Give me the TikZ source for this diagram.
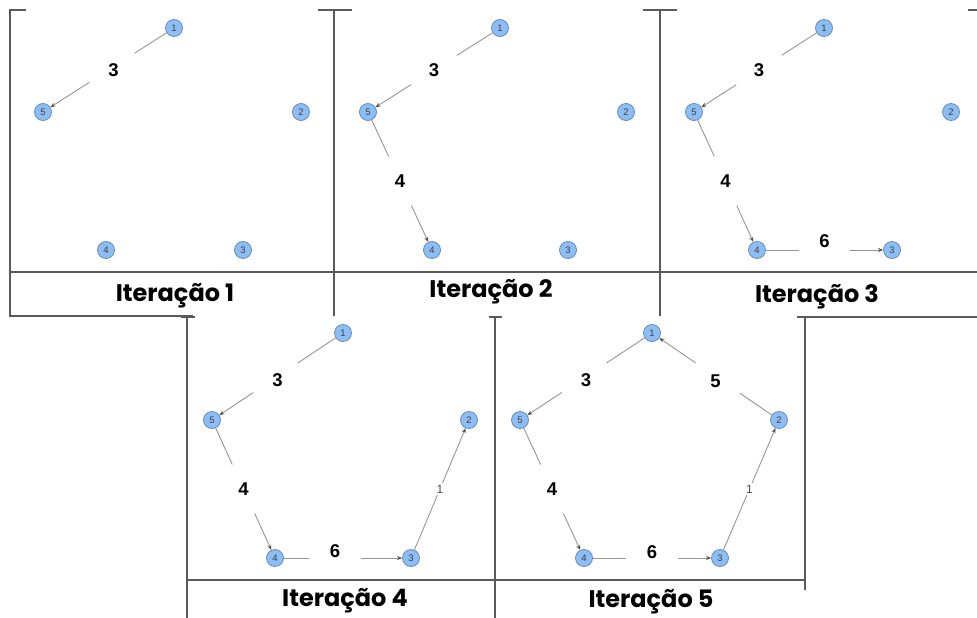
\documentclass[tikz,border=0pt]{standalone}
\usepackage{fontspec}
\setmainfont{Liberation Sans}
\newfontfamily\titlefont{Poppins}
\usetikzlibrary{arrows.meta}
\definecolor{vfill}{RGB}{140,190,245}
\definecolor{vdraw}{RGB}{105,140,185}
\definecolor{egray}{RGB}{150,150,150}
\definecolor{fgray}{RGB}{90,90,90}
\begin{document}
\begin{tikzpicture}[x=1pt,y=-1pt]
\tikzset{
  vert/.style={circle,draw=vdraw,fill=vfill,line width=0.8pt,minimum size=17pt,inner sep=0pt,font=\fontsize{9.5}{10}\selectfont\color{black!75}},
  edge/.style={draw=egray,line width=0.9pt,-{Stealth[length=5pt,width=4pt,color=black!70]}},
  weight/.style={circle,fill=white,minimum size=54pt,inner sep=0pt,font=\fontsize{18.5}{18}\selectfont\bfseries},
  smallw/.style={fill=white,inner sep=1.5pt,font=\fontsize{12}{12}\selectfont\color{black!70}},
  frame/.style={draw=fgray,line width=1.4pt},
  caption/.style={font=\fontsize{24}{24}\selectfont\titlefont\bfseries}
}
\useasboundingbox (0,0) rectangle (977,618);
% table rules
\draw [frame] (26,10) -- (10,10) -- (10,316) -- (193,316);
\draw [frame] (318,10) -- (352,10);
\draw [frame] (334,10) -- (334,316);
\draw [frame] (643,10) -- (677,10);
\draw [frame] (660,10) -- (660,316);
\draw [frame] (968,10) -- (977,10);
\draw [frame] (10,272) -- (977,272);
\draw [frame] (181,317) -- (195,317);
\draw [frame] (187,317) -- (187,618);
\draw [frame] (489,317) -- (502,317);
\draw [frame] (495,317) -- (495,618);
\draw [frame] (797,317) -- (977,317);
\draw [frame] (805,317) -- (805,590);
\draw [frame] (187,580) -- (805,580);
% iteration 1
\node [vert] (a1) at (174,28) {1};
\node [vert] (a2) at (301,112) {2};
\node [vert] (a3) at (243,250) {3};
\node [vert] (a4) at (106,250) {4};
\node [vert] (a5) at (43,112) {5};
\draw [edge] (a1) -- node [weight,xshift=5pt] {3} (a5);
\node [caption] (ca) at (175,296) {Iteração 1};
% iteration 2
\node [vert] (b1) at (500,28) {1};
\node [vert] (b2) at (626,112) {2};
\node [vert] (b3) at (568,250) {3};
\node [vert] (b4) at (432,250) {4};
\node [vert] (b5) at (368,112) {5};
\draw [edge] (b1) -- node [weight] {3} (b5);
\draw [edge] (b5) -- node [weight] {4} (b4);
\node [caption] (cb) at (491,292) {Iteração 2};
% iteration 3
\node [vert] (c1) at (824,28) {1};
\node [vert] (c2) at (951,112) {2};
\node [vert] (c3) at (892,250) {3};
\node [vert] (c4) at (757,250) {4};
\node [vert] (c5) at (694,112) {5};
\draw [edge] (c1) -- node [weight] {3} (c5);
\draw [edge] (c5) -- node [weight] {4} (c4);
\draw [edge] (c4) -- node [weight,yshift=9pt] {6} (c3);
\node [caption] (cc) at (817,297) {Iteração 3};
% iteration 4
\node [vert] (d1) at (343,333) {1};
\node [vert] (d2) at (469,420) {2};
\node [vert] (d3) at (411,558) {3};
\node [vert] (d4) at (275,558) {4};
\node [vert] (d5) at (212,420) {5};
\draw [edge] (d1) -- node [weight,yshift=-4pt] {3} (d5);
\draw [edge] (d5) -- node [weight] {4} (d4);
\draw [edge] (d4) -- node [weight,xshift=-8pt,yshift=7pt] {6} (d3);
\draw [edge] (d3) -- node [smallw] {1} (d2);
\node [caption] (cd) at (345,601) {Iteração 4};
% iteration 5
\node [vert] (e1) at (652,333) {1};
\node [vert] (e2) at (779,420) {2};
\node [vert] (e3) at (720,558) {3};
\node [vert] (e4) at (584,558) {4};
\node [vert] (e5) at (520,420) {5};
\draw [edge] (e1) -- node [weight,yshift=-4pt] {3} (e5);
\draw [edge] (e5) -- node [weight] {4} (e4);
\draw [edge] (e4) -- node [weight,yshift=6pt] {6} (e3);
\draw [edge] (e3) -- node [smallw] {1} (e2);
\draw [edge] (e2) -- node [weight,yshift=-5pt] {5} (e1);
\node [caption] (ce) at (651,602) {Iteração 5};
\end{tikzpicture}
\end{document}
